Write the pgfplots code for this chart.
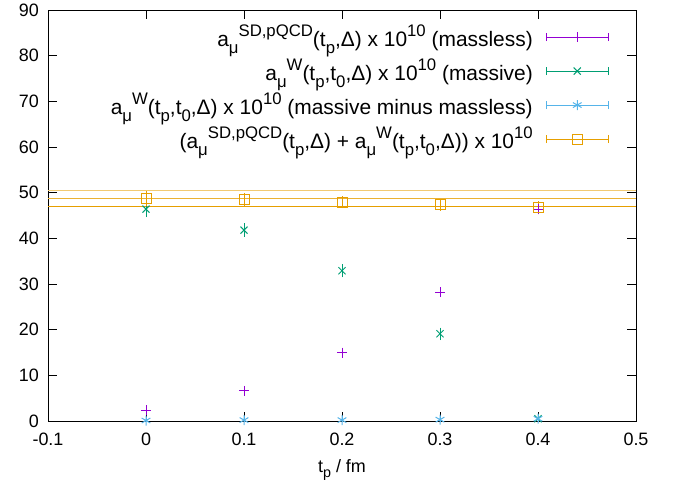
\documentclass[border=0pt]{standalone}
\usepackage{fontspec}
\setmainfont{Liberation Sans}
\usepackage{graphicx}
\usepackage{pgfplots}
\pgfplotsset{compat=1.18}
\definecolor{gpPurple}{HTML}{9400D3}
\definecolor{gpGreen}{HTML}{009E73}
\definecolor{gpCyan}{HTML}{56B4E9}
\definecolor{gpOrange}{HTML}{E69F00}
\newcommand{\up}[1]{\raisebox{0.5em}{\scalebox{0.8}{#1}}}
\newcommand{\dn}[1]{\raisebox{-0.3em}{\scalebox{0.8}{#1}}}
\begin{document}
\begin{tikzpicture}
\fontsize{18}{21}\selectfont
\useasboundingbox (-48bp,-70bp) rectangle (636bp,421bp);
\begin{axis}[
  at={(0bp,0bp)}, anchor=south west,
  scale only axis,
  width=588bp, height=411bp,
  xmin=-0.1, xmax=0.5,
  ymin=0, ymax=90,
  xtick={-0.1,0,0.1,0.2,0.3,0.4,0.5},
  ytick={0,10,20,30,40,50,60,70,80,90},
  tick align=inside,
  major tick length=9bp,
  tick style={black, line width=0.8bp},
  axis line style={line width=1bp},
  /pgf/number format/assume math mode=true,
  tick label style={font=\fontsize{18}{21}\selectfont},
  xticklabel style={yshift=-6bp},
  yticklabel style={xshift=-3bp},
  xlabel={t\dn{p} / fm},
  xlabel style={font=\fontsize{18}{21}\selectfont, yshift=-1bp},
  error bars/error bar style={line width=0.8bp},
  error bars/error mark options={mark size=3.5bp, line width=0.8bp},
  legend image code/.code={
    \draw[#1, mark=none] (0bp,0bp) -- (62bp,0bp);
    \draw[#1, mark=none] (0bp,-4bp) -- (0bp,4bp);
    \draw[#1, mark=none] (62bp,-4bp) -- (62bp,4bp);
    \draw[#1] plot coordinates {(31bp,0bp)};
  },
  legend cell align=right,
  legend plot pos=right,
  legend style={
    at={(rel axis cs:0.954,0.976)}, anchor=north east,
    draw=none, fill=none,
    inner sep=0bp, row sep=0bp,
    font=\fontsize{21}{24}\selectfont,
    nodes={inner sep=0bp, minimum height=34bp},
    column sep=13bp,
  },
]
% horizontal band
\addplot[forget plot, no marks, gpOrange!55, line width=1bp] coordinates {(-0.1,50.4) (0.5,50.4)};
\addplot[forget plot, no marks, gpOrange!80, line width=1bp] coordinates {(-0.1,48.75) (0.5,48.75)};
\addplot[forget plot, no marks, gpOrange, line width=1bp] coordinates {(-0.1,47.0) (0.5,47.0)};

% massless
\addplot[gpPurple, only marks, mark=+, mark size=5bp, line width=1bp,
  error bars/.cd, y dir=both, y explicit] coordinates {
  (0,2.4) +- (0,0.2)
  (0.1,6.6) +- (0,0.2)
  (0.2,15.0) +- (0,0.2)
  (0.3,28.2) +- (0,0.3)
  (0.4,46.4) +- (0,0.4)
};
% massive
\addplot[gpGreen, only marks, mark=x, mark size=5bp, line width=1bp,
  error bars/.cd, y dir=both, y explicit] coordinates {
  (0,46.4) +- (0,1.0)
  (0.1,41.8) +- (0,0.7)
  (0.2,32.9) +- (0,0.7)
  (0.3,19.1) +- (0,0.6)
  (0.4,0.5) +- (0,0.2)
};
% massive minus massless
\addplot[gpCyan, only marks, mark=asterisk, mark size=5bp, line width=1bp,
  error bars/.cd, y dir=both, y explicit] coordinates {
  (0,0.1) +- (0,0.05)
  (0.1,0.2) +- (0,0.05)
  (0.2,0.2) +- (0,0.05)
  (0.3,0.3) +- (0,0.05)
  (0.4,0.5) +- (0,0.1)
};
% sum
\addplot[gpOrange, only marks, mark=square, mark size=5bp, line width=1bp,
  error bars/.cd, y dir=both, y explicit] coordinates {
  (0,48.8) +- (0,0.9)
  (0.1,48.5) +- (0,0.6)
  (0.2,47.9) +- (0,0.5)
  (0.3,47.3) +- (0,0.5)
  (0.4,46.8) +- (0,0.6)
};
\legend{
  {a\dn{μ}\up{SD,pQCD}(t\dn{p},Δ) x 10\up{10} (massless)},
  {a\dn{μ}\up{W}(t\dn{p},t\dn{0},Δ) x 10\up{10} (massive)},
  {a\dn{μ}\up{W}(t\dn{p},t\dn{0},Δ) x 10\up{10} (massive minus massless)},
  {(a\dn{μ}\up{SD,pQCD}(t\dn{p},Δ) + a\dn{μ}\up{W}(t\dn{p},t\dn{0},Δ)) x 10\up{10}}
}
\end{axis}
\end{tikzpicture}
\end{document}
